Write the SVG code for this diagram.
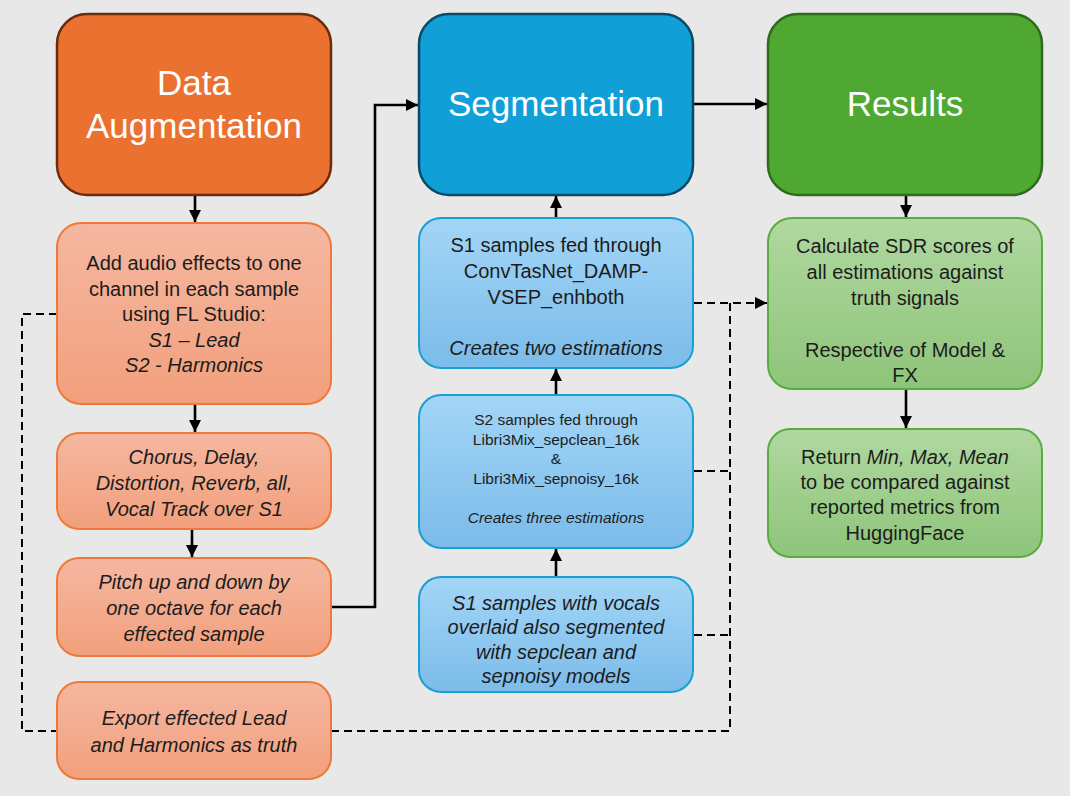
<svg xmlns="http://www.w3.org/2000/svg" width="1070" height="796" viewBox="0 0 1070 796">
<defs>
<linearGradient id="gO" x1="0" y1="0" x2="0" y2="1"><stop offset="0" stop-color="#f5b7a0"/><stop offset="1" stop-color="#f2a07d"/></linearGradient>
<linearGradient id="gB" x1="0" y1="0" x2="0" y2="1"><stop offset="0" stop-color="#a3d5f6"/><stop offset="1" stop-color="#7bbcea"/></linearGradient>
<linearGradient id="gG" x1="0" y1="0" x2="0" y2="1"><stop offset="0" stop-color="#b0d8a0"/><stop offset="1" stop-color="#8ec47a"/></linearGradient>
<marker id="ah" viewBox="0 0 10 10" refX="10" refY="5" markerWidth="12" markerHeight="12" markerUnits="userSpaceOnUse" orient="auto"><path d="M0,0 L10,5 L0,10 z" fill="#000"/></marker>
</defs>
<style>
.hd{font-family:"Liberation Sans",Arial,sans-serif;font-size:35px;fill:#fff;text-anchor:middle}
.t{font-family:"Liberation Sans",Arial,sans-serif;font-size:20px;fill:#1c1c1c;text-anchor:middle}
.s{font-family:"Liberation Sans",Arial,sans-serif;font-size:15.5px;fill:#1c1c1c;text-anchor:middle}
.i{font-style:italic}
.c{fill:none;stroke:#000;stroke-width:2.6}
.d{fill:none;stroke:#000;stroke-width:2;stroke-dasharray:8 5}
.ob{fill:url(#gO);stroke:#ee7a3a;stroke-width:2}
.bb{fill:url(#gB);stroke:#1a9fd2;stroke-width:2}
.gb{fill:url(#gG);stroke:#5aab40;stroke-width:2}
</style>
<rect width="1070" height="796" fill="#e8e8e8"/>
<g id="connectors">
<line class="c" x1="195" y1="196" x2="195" y2="222" marker-end="url(#ah)"/>
<line class="c" x1="195" y1="405" x2="195" y2="432" marker-end="url(#ah)"/>
<line class="c" x1="192" y1="530" x2="192" y2="557" marker-end="url(#ah)"/>
<polyline class="c" points="331,607 375,607 375,105 418,105" marker-end="url(#ah)"/>
<line class="c" x1="694" y1="104" x2="767" y2="104" marker-end="url(#ah)"/>
<line class="c" x1="556" y1="218" x2="556" y2="196" marker-end="url(#ah)"/>
<line class="c" x1="556" y1="395" x2="556" y2="369" marker-end="url(#ah)"/>
<line class="c" x1="556" y1="577" x2="556" y2="549" marker-end="url(#ah)"/>
<line class="c" x1="906" y1="196" x2="906" y2="217" marker-end="url(#ah)"/>
<line class="c" x1="906" y1="390" x2="906" y2="428" marker-end="url(#ah)"/>
<polyline class="d" points="57,314 22,314 22,731 57,731"/>
<line class="d" x1="694" y1="303" x2="767" y2="303" marker-end="url(#ah)"/>
<polyline class="d" points="331,731 730,731 730,303"/>
<line class="d" x1="694" y1="471" x2="730" y2="471"/>
<line class="d" x1="694" y1="635" x2="730" y2="635"/>
</g>
<g id="data-augmentation">
<rect x="57" y="14" width="274" height="181" rx="30" fill="#ea7130" stroke="#6a2c0e" stroke-width="2.5"/>
<text class="hd" x="194" y="95">Data</text>
<text class="hd" x="194" y="138">Augmentation</text>
</g>
<g id="segmentation">
<rect x="419" y="14" width="274" height="181" rx="30" fill="#119fd8" stroke="#0b4a66" stroke-width="2.5"/>
<text class="hd" x="556" y="116">Segmentation</text>
</g>
<g id="results">
<rect x="768" y="14" width="274" height="181" rx="30" fill="#4ea832" stroke="#2e6b1c" stroke-width="2.5"/>
<text class="hd" x="905" y="116">Results</text>
</g>
<g id="add-effects">
<rect class="ob" x="57" y="223" width="274" height="181" rx="24"/>
<text class="t" x="194" y="270">Add audio effects to one</text>
<text class="t" x="194" y="296">channel in each sample</text>
<text class="t" x="194" y="321">using FL Studio:</text>
<text class="t i" x="194" y="347">S1 – Lead</text>
<text class="t i" x="194" y="372">S2 - Harmonics</text>
</g>
<g id="fx-list">
<rect class="ob" x="57" y="433" width="274" height="96" rx="22"/>
<text class="t i" x="194" y="464">Chorus, Delay,</text>
<text class="t i" x="194" y="490">Distortion, Reverb, all,</text>
<text class="t i" x="194" y="516">Vocal Track over S1</text>
</g>
<g id="pitch">
<rect class="ob" x="57" y="558" width="274" height="98" rx="22"/>
<text class="t i" x="194" y="589">Pitch up and down by</text>
<text class="t i" x="194" y="615">one octave for each</text>
<text class="t i" x="194" y="641">effected sample</text>
</g>
<g id="export">
<rect class="ob" x="57" y="682" width="274" height="97" rx="22"/>
<text class="t i" x="194" y="725">Export effected Lead</text>
<text class="t i" x="194" y="752">and Harmonics as truth</text>
</g>
<g id="s1-convtasnet">
<rect class="bb" x="419" y="218" width="274" height="150" rx="22"/>
<text class="t" x="556" y="252">S1 samples fed through</text>
<text class="t" x="556" y="278">ConvTasNet_DAMP-</text>
<text class="t" x="556" y="304">VSEP_enhboth</text>
<text class="t i" x="556" y="355">Creates two estimations</text>
</g>
<g id="s2-libri">
<rect class="bb" x="419" y="395" width="274" height="153" rx="22"/>
<text class="s" x="556" y="425">S2 samples fed through</text>
<text class="s" x="556" y="445">Libri3Mix_sepclean_16k</text>
<text class="s" x="556" y="464">&amp;</text>
<text class="s" x="556" y="484">Libri3Mix_sepnoisy_16k</text>
<text class="s i" x="556" y="523">Creates three estimations</text>
</g>
<g id="s1-vocals">
<rect class="bb" x="419" y="577" width="274" height="115" rx="22"/>
<text class="t i" x="556" y="610">S1 samples with vocals</text>
<text class="t i" x="556" y="634">overlaid also segmented</text>
<text class="t i" x="556" y="659">with sepclean and</text>
<text class="t i" x="556" y="683">sepnoisy models</text>
</g>
<g id="sdr">
<rect class="gb" x="768" y="218" width="274" height="171" rx="24"/>
<text class="t" x="905" y="253">Calculate SDR scores of</text>
<text class="t" x="905" y="279">all estimations against</text>
<text class="t" x="905" y="305">truth signals</text>
<text class="t" x="905" y="357">Respective of Model &amp;</text>
<text class="t" x="905" y="382">FX</text>
</g>
<g id="return">
<rect class="gb" x="768" y="429" width="274" height="128" rx="22"/>
<text class="t" x="905" y="464">Return <tspan class="i">Min, Max, Mean</tspan></text>
<text class="t" x="905" y="489">to be compared against</text>
<text class="t" x="905" y="514">reported metrics from</text>
<text class="t" x="905" y="540">HuggingFace</text>
</g>
</svg>
